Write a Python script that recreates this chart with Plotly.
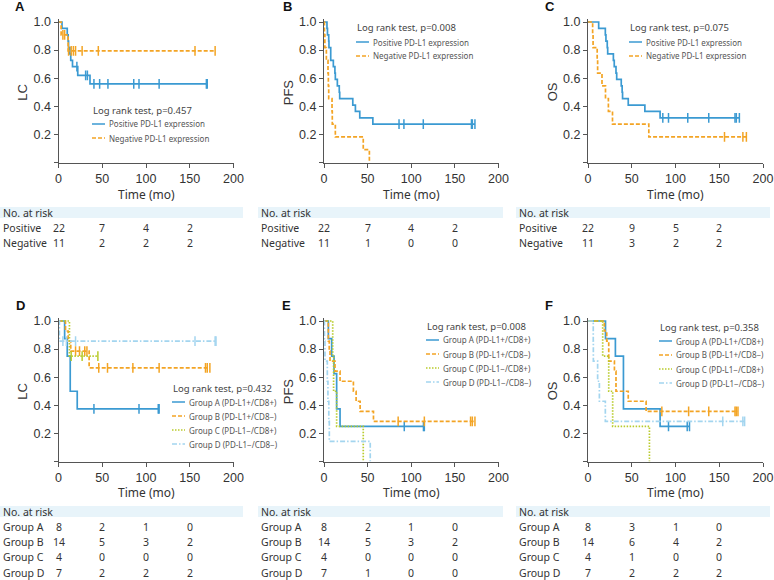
import plotly.graph_objects as go

W, H = 774, 580

BLUE = '#3b9ad2'
ORANGE = '#f3a424'
GREEN = '#b9cb2c'
LBLUE = '#a3d5ef'

x_ticks = [0, 50, 100, 150, 200]
y_ticks = [0, 0.2, 0.4, 0.6, 0.8, 1.0]
y_ticktext = ['', '0.2', '0.4', '0.6', '0.8', '1.0']
risk_times = [0, 50, 100, 150]

# ---- A: LC by PD-L1
a_pos = dict(t=[4, 10, 11, 11.5, 13, 14, 16, 22, 36],
             s=[0.955, 0.909, 0.864, 0.818, 0.773, 0.727, 0.682, 0.62, 0.56],
             cens=[21, 31, 33, 40.5, 47, 56.5, 86, 92, 115, 169, 170])
a_neg = dict(t=[3, 11],
             s=[0.909, 0.795],
             cens=[5, 7, 11.5, 14.5, 17, 19.5, 27, 45.5, 156, 179])

# ---- B: PFS by PD-L1
b_pos = dict(t=[3.4, 4, 5.4, 5.7, 7.7, 10.7, 12.5, 13, 15.3, 17.5, 18, 33, 36, 41, 56],
             s=[0.955, 0.909, 0.864, 0.818, 0.727, 0.682, 0.636, 0.591, 0.545, 0.5, 0.455,
                0.409, 0.364, 0.318, 0.273],
             cens=[86, 91.6, 113.8, 169, 170, 173])
b_neg = dict(t=[0.5, 1, 2.7, 4.6, 5, 5.4, 9.2, 9.5, 13, 45, 52],
             s=[0.909, 0.818, 0.727, 0.636, 0.545, 0.455, 0.364, 0.273, 0.182, 0.091, 0],
             cens=[])

# ---- C: OS by PD-L1
c_pos = dict(t=[12.2, 19.8, 20.5, 22, 22.5, 29, 30, 32, 32.8, 38, 39, 39.5, 46, 65, 82.4],
             s=[0.955, 0.909, 0.864, 0.818, 0.773, 0.727, 0.682, 0.636, 0.591, 0.545, 0.5,
                0.455, 0.409, 0.364, 0.318],
             cens=[85.5, 92, 114, 138, 168, 169.5, 173])
c_neg = dict(t=[5.3, 5.8, 10.5, 11, 16, 20, 23.3, 28, 69.5],
             s=[0.909, 0.818, 0.727, 0.636, 0.545, 0.455, 0.364, 0.273, 0.182],
             cens=[156, 177, 181])

# ---- D: LC by group
d_a = dict(t=[7, 10, 13.4, 21.4], s=[0.875, 0.75, 0.5, 0.375], cens=[40.5, 92, 114, 115])
d_b = dict(t=[8, 11, 14, 35], s=[0.929, 0.857, 0.786, 0.667],
           cens=[19.5, 24, 30, 32.5, 46, 56, 85, 115, 168, 170, 173])
d_c = dict(t=[12.5], s=[0.75], cens=[14.5, 27, 45])
d_d = dict(t=[1], s=[0.857], cens=[5, 9, 19.5, 156, 179, 180])

# ---- E: PFS by group
e_a = dict(t=[5, 8.8, 11.5, 14.5, 18.4], s=[0.875, 0.75, 0.625, 0.375, 0.25], cens=[92, 114, 115])
e_b = dict(t=[5, 6, 6.9, 12.6, 18.4, 33.7, 36.8, 41.4, 56.7],
           s=[0.857, 0.786, 0.714, 0.643, 0.571, 0.5, 0.429, 0.357, 0.286],
           cens=[85, 115, 168, 170, 173])
e_c = dict(t=[10, 11, 14.5, 45], s=[0.75, 0.5, 0.25, 0], cens=[])
e_d = dict(t=[0.5, 1.1, 3.8, 4.5, 5.5, 6.1, 53], s=[0.857, 0.714, 0.571, 0.429, 0.286, 0.143, 0],
           cens=[])

# ---- F: OS by group
f_a = dict(t=[20, 31.3, 40.5, 82.4], s=[0.875, 0.75, 0.375, 0.25], cens=[92, 113.4, 116])
f_b = dict(t=[18.7, 21.4, 23.7, 30.2, 32, 46, 66.4],
           s=[0.929, 0.857, 0.714, 0.643, 0.5, 0.429, 0.357],
           cens=[84.4, 115, 138, 168, 169.5, 171.4])
f_c = dict(t=[16.8, 23.7, 28.2, 70.2], s=[0.75, 0.5, 0.25, 0], cens=[])
f_d = dict(t=[6, 6.1, 11, 13, 19.8], s=[0.857, 0.714, 0.571, 0.429, 0.286],
           cens=[154, 177, 179])

# numbers at risk
risk_a = [('Positive', [22, 7, 4, 2]), ('Negative', [11, 2, 2, 2])]
risk_b = [('Positive', [22, 7, 4, 2]), ('Negative', [11, 1, 0, 0])]
risk_c = [('Positive', [22, 9, 5, 2]), ('Negative', [11, 3, 2, 2])]
risk_d = [('Group A', [8, 2, 1, 0]), ('Group B', [14, 5, 3, 2]),
          ('Group C', [4, 0, 0, 0]), ('Group D', [7, 2, 2, 2])]
risk_e = [('Group A', [8, 2, 1, 0]), ('Group B', [14, 5, 3, 2]),
          ('Group C', [4, 0, 0, 0]), ('Group D', [7, 1, 0, 0])]
risk_f = [('Group A', [8, 3, 1, 0]), ('Group B', [14, 6, 4, 2]),
          ('Group C', [4, 1, 0, 0]), ('Group D', [7, 2, 2, 2])]

pd_names = ['Positive PD-L1 expression', 'Negative PD-L1 expression']
grp_names = ['Group A (PD-L1+/CD8+)', 'Group B (PD-L1+/CD8−)',
             'Group C (PD-L1−/CD8+)', 'Group D (PD-L1−/CD8−)']
pvals = ['0.457', '0.008', '0.075', '0.432', '0.008', '0.358']

STYLES = [(BLUE, 'solid'), (ORANGE, '4px,2px'), (GREEN, '1.5px,1.5px'), (LBLUE, '5px,2px,1.5px,2px')]

panels = [
    dict(letter='A', ylab='LC', curves=[a_pos, a_neg], names=pd_names, risk=risk_a, p=pvals[0]),
    dict(letter='B', ylab='PFS', curves=[b_pos, b_neg], names=pd_names, risk=risk_b, p=pvals[1]),
    dict(letter='C', ylab='OS', curves=[c_pos, c_neg], names=pd_names, risk=risk_c, p=pvals[2]),
    dict(letter='D', ylab='LC', curves=[d_a, d_b, d_c, d_d], names=grp_names, risk=risk_d, p=pvals[3]),
    dict(letter='E', ylab='PFS', curves=[e_a, e_b, e_c, e_d], names=grp_names, risk=risk_e, p=pvals[4]),
    dict(letter='F', ylab='OS', curves=[f_a, f_b, f_c, f_d], names=grp_names, risk=risk_f, p=pvals[5]),
]

# pixel layout
cols = [(58.5, 233.5), (324, 498.5), (588, 763)]
col_left = [0, 258, 516]
band_right = [243, 503, 770]
rows = [(22, 162.5), (321, 461.5)]
letter_xy = [(20, 7), (287, 7), (550, 7), (20, 305), (286, 305), (549, 305)]
legend_xy = [(92, 110, 14), (356, 28, 14), (629, 28, 14),
             (172, 388, 14), (426, 326, 14), (659, 327, 14)]
table_y = [dict(title=194, band=(207, 218), rows=[228, 243]),
           dict(title=492, band=(506, 517), rows=[527, 542, 557, 573])]

YMAX = 1.02


def px(x):
    return x / W


def py_(y):
    return 1 - y / H


def surv_at(c, t):
    v = 1.0
    for tt, ss in zip(c['t'], c['s']):
        if tt <= t:
            v = ss
    return v


def note(x, y, text, size, xref='paper', xanchor='center', family=None, color='#333', **kw):
    return dict(x=x, y=y, xref=xref, yref='paper', text=text, showarrow=False,
                xanchor=xanchor, yanchor='middle',
                font=dict(family=family or TXT_FONT, size=size, color=color), **kw)


fig = go.Figure()
annotations = []
shapes = []

TICK_FONT = dict(family='Liberation Sans, Arial', size=12.5, color='#333')
TXT_FONT = 'Noto Sans, Open Sans, sans-serif'

for i, pan in enumerate(panels):
    r, c = divmod(i, 3)
    n = i + 1
    xa = 'x' if n == 1 else f'x{n}'
    ya = 'y' if n == 1 else f'y{n}'
    x0, x1 = cols[c]
    ytop, ybot = rows[r]
    top_px = ybot - (ybot - ytop) * YMAX

    fig.layout[f'xaxis{"" if n == 1 else n}'] = dict(
        domain=[px(x0), px(x1)], range=[0, 200], anchor=ya, automargin=False,
        tickvals=x_ticks, ticks='outside', ticklen=4, tickcolor='#555',
        showline=True, linecolor='#555', linewidth=1, showgrid=False, zeroline=False,
        tickfont=TICK_FONT, fixedrange=True)
    fig.layout[f'yaxis{"" if n == 1 else n}'] = dict(
        domain=[py_(ybot), py_(top_px)], range=[0, YMAX], anchor=xa, automargin=False,
        tickvals=y_ticks, ticktext=y_ticktext, ticks='outside', ticklen=4, tickcolor='#555',
        showline=True, linecolor='#555', linewidth=1, showgrid=False, zeroline=False,
        tickfont=TICK_FONT, fixedrange=True)

    # curves
    for k, cur in enumerate(pan['curves']):
        col, dash = STYLES[k]
        end = max([cur['t'][-1]] + cur['cens'])
        xs = [0] + cur['t'] + [end]
        ys = [1.0] + cur['s'] + [cur['s'][-1]]
        fig.add_trace(go.Scatter(x=xs, y=ys, mode='lines', line_shape='hv',
                                 line=dict(color=col, width=1.7, dash=dash),
                                 xaxis=xa, yaxis=ya, showlegend=False,
                                 name=pan['names'][k]))
        if cur['cens']:
            fig.add_trace(go.Scatter(x=cur['cens'], y=[surv_at(cur, t) for t in cur['cens']],
                                     mode='markers',
                                     marker=dict(symbol='line-ns', size=7,
                                                 line=dict(color=col, width=1.5)),
                                     xaxis=xa, yaxis=ya, showlegend=False, hoverinfo='skip'))

    # panel letter
    lx, ly = letter_xy[i]
    annotations.append(note(px(lx), py_(ly), f'<b>{pan["letter"]}</b>', 13,
                            family='Liberation Sans, Arial', color='#111'))
    # y label
    annotations.append(note(px(x0 - 36), py_((ytop + ybot) / 2), pan['ylab'], 13,
                            family='Liberation Sans, Arial', textangle=-90))
    # x title
    ty = table_y[r]
    annotations.append(note(100, py_(ty['title']), 'Time (mo)', 12, xref=xa))

    # legend
    gx, gy, step = legend_xy[i]
    annotations.append(note(px(gx - 1), py_(gy), f'Log rank test, p={pan["p"]}', 9.5,
                            xanchor='left', color='#444'))
    for k, name in enumerate(pan['names']):
        col, dash = STYLES[k]
        yy = gy + step * (k + 1)
        shapes.append(dict(type='line', xref='paper', yref='paper', x0=px(gx), x1=px(gx + 13),
                           y0=py_(yy), y1=py_(yy), line=dict(color=col, width=1.5, dash=dash)))
        annotations.append(note(px(gx + 15), py_(yy), name, 8, xanchor='left', color='#555'))

    # number at risk table
    b0, b1 = ty['band']
    shapes.append(dict(type='rect', xref='paper', yref='paper', x0=px(col_left[c]), x1=px(band_right[c]),
                       y0=py_(b1), y1=py_(b0), fillcolor='#e8f4fa', line=dict(width=0), layer='below'))
    annotations.append(note(px(col_left[c] + 1), py_((b0 + b1) / 2), 'No. at risk', 10.5, xanchor='left'))
    for (label, counts), yy in zip(pan['risk'], ty['rows']):
        annotations.append(note(px(col_left[c] + 1), py_(yy), label, 10.5, xanchor='left'))
        for t, v in zip(risk_times, counts):
            annotations.append(note(t, py_(yy), str(v), 10.5, xref=xa))

fig.update_layout(template='none', width=W, height=H, margin=dict(l=0, r=0, t=0, b=0, pad=0),
                  paper_bgcolor='white', plot_bgcolor='white',
                  annotations=annotations, shapes=shapes, showlegend=False)

fig.write_html("out.html", config={'displayModeBar': False},
               post_script="document.body.style.margin='0';")
